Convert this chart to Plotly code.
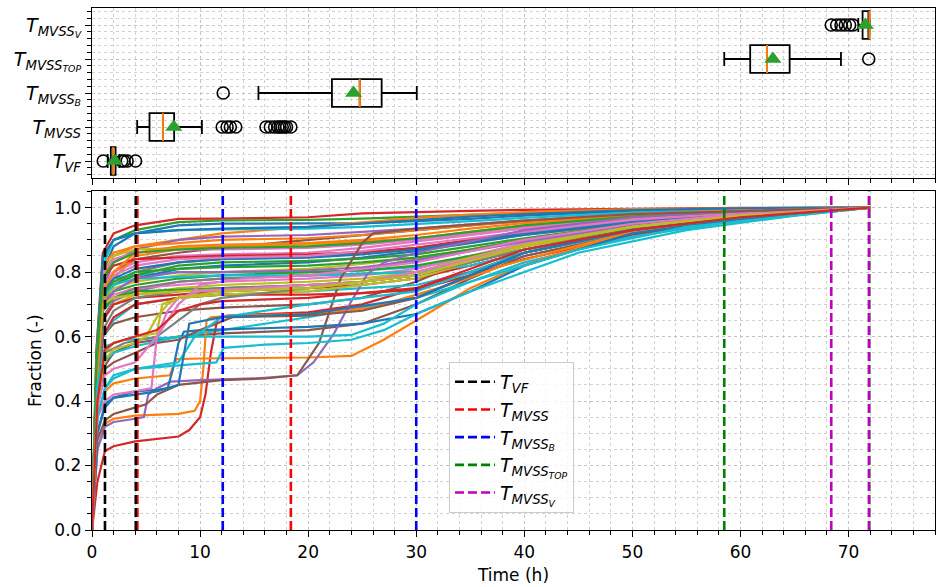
import plotly.graph_objects as go

# ---------------- data ----------------
# top panel: box statistics (hours)
BOX_LABELS = ["<i>T</i><sub><i>VF</i></sub>",
              "<i>T</i><sub><i>MVSS</i></sub>",
              "<i>T</i><sub><i>MVSS</i><sub><i>B</i></sub></sub>",
              "<i>T</i><sub><i>MVSS</i><sub><i>TOP</i></sub></sub>",
              "<i>T</i><sub><i>MVSS</i><sub><i>V</i></sub></sub>"]
BOX_POS = [1, 2, 3, 4, 5]
BOX_Q1 = [1.74, 5.32, 22.2, 60.9, 71.3]
BOX_MED = [1.96, 6.56, 24.77, 62.45, 71.93]
BOX_Q3 = [2.18, 7.6, 26.8, 64.55, 71.93]
BOX_LO = [1.45, 4.18, 15.4, 58.5, 70.9]
BOX_HI = [2.55, 10.17, 30.05, 69.3, 71.95]
BOX_MEAN = [2.1, 7.57, 24.2, 63.0, 71.55]
BOX_OUTLIERS = [
    [1.04, 2.75, 2.95, 3.25, 4.03],
    [12.05, 12.5, 12.8, 13.3, 16.1, 16.5, 16.9, 17.2, 17.4, 17.6, 17.8, 18.0, 18.4],
    [12.14],
    [71.87],
    [68.4, 68.9, 69.3, 69.7, 70.1, 70.4],
]

# vertical marker lines (min / max of each distribution)
VLINE_LABELS = BOX_LABELS
VLINE_VALUES = [[1.2, 4.05], [4.2, 18.4], [12.1, 30.0], [58.5, 71.9], [68.4, 71.9]]

# bottom panel: cumulative fraction curves
T_COMMON = [0, 0.4, 1, 2, 4, 8, 12, 20, 25, 30, 35, 40, 50, 60, 72]
Y_COMMON = [
    [0, 0.55, 0.86, 0.92, 0.945, 0.965, 0.966, 0.97, 0.982, 0.987, 0.99, 0.993, 0.997, 0.999, 1.0],
    [0, 0.5, 0.8, 0.88, 0.92, 0.945, 0.95, 0.95, 0.952, 0.958, 0.965, 0.975, 0.99, 0.997, 1.0],
    [0, 0.55, 0.84, 0.9, 0.93, 0.955, 0.96, 0.962, 0.966, 0.972, 0.978, 0.984, 0.993, 0.998, 1.0],
    [0, 0.5, 0.78, 0.85, 0.88, 0.9, 0.92, 0.94, 0.955, 0.968, 0.978, 0.986, 0.995, 0.998, 1.0],
    [0, 0.5, 0.82, 0.9, 0.92, 0.93, 0.932, 0.935, 0.94, 0.948, 0.958, 0.968, 0.985, 0.995, 1.0],
    [0, 0.45, 0.75, 0.83, 0.87, 0.9, 0.91, 0.915, 0.925, 0.935, 0.948, 0.96, 0.98, 0.992, 1.0],
    [0, 0.45, 0.72, 0.8, 0.84, 0.86, 0.875, 0.9, 0.915, 0.93, 0.945, 0.958, 0.978, 0.99, 1.0],
    [0, 0.5, 0.76, 0.8, 0.83, 0.85, 0.855, 0.86, 0.875, 0.895, 0.915, 0.935, 0.965, 0.985, 1.0],
    [0, 0.45, 0.7, 0.76, 0.8, 0.83, 0.84, 0.85, 0.86, 0.875, 0.895, 0.915, 0.95, 0.978, 1.0],
    [0, 0.5, 0.8, 0.85, 0.87, 0.875, 0.88, 0.885, 0.892, 0.905, 0.92, 0.94, 0.968, 0.986, 1.0],
    [0, 0.5, 0.75, 0.78, 0.79, 0.8, 0.8, 0.8, 0.805, 0.815, 0.84, 0.87, 0.925, 0.965, 1.0],
    [0, 0.45, 0.68, 0.74, 0.78, 0.81, 0.82, 0.83, 0.845, 0.865, 0.89, 0.915, 0.955, 0.982, 1.0],
    [0, 0.4, 0.7, 0.78, 0.85, 0.87, 0.88, 0.89, 0.895, 0.905, 0.925, 0.945, 0.972, 0.988, 1.0],
    [0, 0.45, 0.72, 0.76, 0.79, 0.82, 0.83, 0.835, 0.842, 0.855, 0.88, 0.905, 0.95, 0.978, 1.0],
    [0, 0.5, 0.78, 0.82, 0.84, 0.845, 0.85, 0.855, 0.862, 0.875, 0.9, 0.925, 0.96, 0.982, 1.0],
    [0, 0.4, 0.66, 0.71, 0.74, 0.77, 0.78, 0.79, 0.81, 0.84, 0.87, 0.9, 0.945, 0.975, 1.0],
    [0, 0.35, 0.6, 0.64, 0.66, 0.68, 0.69, 0.7, 0.72, 0.77, 0.84, 0.89, 0.94, 0.972, 1.0],
    [0, 0.45, 0.7, 0.73, 0.75, 0.76, 0.77, 0.78, 0.79, 0.81, 0.85, 0.89, 0.94, 0.975, 1.0],
    [0, 0.4, 0.68, 0.72, 0.75, 0.77, 0.78, 0.79, 0.795, 0.8, 0.83, 0.87, 0.93, 0.97, 1.0],
    [0, 0.4, 0.65, 0.7, 0.73, 0.75, 0.76, 0.77, 0.78, 0.8, 0.84, 0.88, 0.935, 0.972, 1.0],
    [0, 0.4, 0.6, 0.65, 0.7, 0.72, 0.73, 0.74, 0.75, 0.76, 0.8, 0.85, 0.92, 0.965, 1.0],
    [0, 0.45, 0.74, 0.78, 0.81, 0.83, 0.84, 0.845, 0.855, 0.87, 0.895, 0.92, 0.958, 0.982, 1.0],
    [0, 0.5, 0.82, 0.86, 0.88, 0.89, 0.9, 0.905, 0.915, 0.93, 0.945, 0.96, 0.98, 0.992, 1.0],
    [0, 0.45, 0.7, 0.74, 0.76, 0.78, 0.79, 0.8, 0.805, 0.82, 0.85, 0.88, 0.935, 0.972, 1.0],
    [0, 0.4, 0.65, 0.7, 0.72, 0.73, 0.74, 0.75, 0.76, 0.78, 0.82, 0.86, 0.925, 0.968, 1.0],
    [0, 0.45, 0.72, 0.75, 0.77, 0.79, 0.8, 0.81, 0.825, 0.845, 0.87, 0.9, 0.948, 0.978, 1.0],
    [0, 0.45, 0.73, 0.77, 0.8, 0.81, 0.815, 0.82, 0.83, 0.845, 0.87, 0.9, 0.948, 0.978, 1.0],
    [0, 0.5, 0.8, 0.84, 0.86, 0.87, 0.87, 0.875, 0.885, 0.9, 0.92, 0.94, 0.97, 0.988, 1.0],
    [0, 0.4, 0.68, 0.72, 0.74, 0.745, 0.75, 0.76, 0.77, 0.79, 0.83, 0.87, 0.93, 0.97, 1.0],
    [0, 0.45, 0.72, 0.76, 0.78, 0.785, 0.79, 0.79, 0.795, 0.8, 0.82, 0.86, 0.925, 0.968, 1.0],
    [0, 0.4, 0.6, 0.66, 0.7, 0.72, 0.73, 0.73, 0.735, 0.745, 0.79, 0.84, 0.915, 0.965, 1.0],
    [0, 0.5, 0.85, 0.9, 0.92, 0.93, 0.935, 0.94, 0.95, 0.962, 0.972, 0.98, 0.992, 0.998, 1.0],
    [0, 0.45, 0.7, 0.74, 0.78, 0.8, 0.8, 0.805, 0.815, 0.835, 0.865, 0.895, 0.945, 0.976, 1.0],
    [0, 0.35, 0.5, 0.55, 0.58, 0.6, 0.61, 0.62, 0.64, 0.7, 0.78, 0.85, 0.92, 0.965, 1.0],
    [0, 0.45, 0.75, 0.79, 0.82, 0.84, 0.845, 0.85, 0.865, 0.885, 0.905, 0.925, 0.962, 0.984, 1.0],
    [0, 0.4, 0.62, 0.68, 0.72, 0.74, 0.75, 0.76, 0.77, 0.79, 0.83, 0.87, 0.93, 0.97, 1.0],
    [0, 0.45, 0.7, 0.72, 0.73, 0.74, 0.745, 0.75, 0.77, 0.8, 0.845, 0.885, 0.94, 0.974, 1.0],
    [0, 0.4, 0.52, 0.55, 0.57, 0.6, 0.62, 0.66, 0.69, 0.72, 0.77, 0.83, 0.91, 0.96, 1.0],
    [0, 0.45, 0.74, 0.8, 0.86, 0.88, 0.885, 0.89, 0.9, 0.915, 0.935, 0.952, 0.976, 0.99, 1.0],
    [0, 0.5, 0.78, 0.83, 0.86, 0.87, 0.875, 0.88, 0.89, 0.905, 0.925, 0.945, 0.972, 0.988, 1.0],
]
# tab10 colour index for each common-grid curve
Y_COMMON_COLOR = [3, 0, 2, 1, 9, 4, 5, 6, 7, 8,
                  9, 0, 1, 2, 3, 4, 5, 6, 7, 8,
                  9, 0, 1, 2, 3, 8, 2, 6, 2, 9,
                  3, 0, 4, 5, 6, 7, 8, 9, 1, 2]

# curves with individual time stamps (step-like jumps)
T_SPECIAL = [
    [0, 0.5, 1.2, 2, 4, 6, 8, 9, 10, 10.5, 11, 11.6, 12.5, 16, 20, 25, 30, 35, 40, 50, 60, 72],
    [0, 0.5, 1.2, 2, 4, 6, 8, 9.5, 10, 10.3, 10.6, 11, 13, 20, 26, 30, 33, 38, 43, 50, 60, 72],
    [0, 0.5, 1.2, 2, 4, 6, 7.2, 7.8, 10, 20, 24, 27, 30, 35, 39, 43, 50, 58, 72],
    [0, 0.5, 1.2, 2, 4, 4.8, 5.2, 6, 7.3, 10, 15, 19, 20.5, 22.4, 24, 25.5, 27, 30, 40, 50, 60, 72],
    [0, 0.5, 1.2, 2, 3.5, 5, 6, 8, 12, 16, 19, 21, 23, 25, 26, 30, 40, 50, 72],
    [0, 0.5, 1.2, 2, 4, 6, 7, 7.5, 8, 8.5, 10, 15, 20, 25, 30, 35, 40, 50, 60, 72],
    [0, 0.5, 1.2, 2, 4, 8, 11.5, 12.2, 16, 20, 24, 27, 30, 35, 45, 55, 65, 72],
    [0, 0.5, 1.2, 3, 6, 10, 15, 20, 24, 27, 30, 35, 45, 55, 65, 72],
    [0, 0.5, 1.2, 2, 4, 6, 8, 10, 13, 20, 25, 30, 40, 50, 60, 72],
    [0, 0.5, 1.2, 2, 4, 5.5, 6, 7, 8, 10, 15, 25, 30, 40, 50, 60, 72],
    [0, 0.5, 1.2, 2, 4, 6, 6.5, 8, 12, 20, 30, 40, 50, 60, 72],
    [0, 0.5, 1.2, 2, 4, 6, 8, 9.5, 12, 20, 30, 40, 50, 60, 72],
    [0, 0.5, 1.2, 3, 6, 8, 10, 12, 20, 30, 40, 50, 60, 72],
    [0, 0.5, 1.2, 2, 4, 6, 8, 8.5, 9, 12, 20, 30, 40, 50, 60, 72],
    [0, 0.5, 1.2, 2, 4, 6, 8, 10, 14, 20, 30, 40, 50, 60, 72],
    [0, 0.5, 1.2, 2, 4, 5, 6, 7, 8, 12, 20, 30, 40, 50, 60, 72],
    [0, 0.5, 1.2, 2, 4, 6, 8, 10, 12, 20, 30, 40, 50, 60, 72],
]
Y_SPECIAL = [
    [0, 0.15, 0.245, 0.26, 0.275, 0.282, 0.29, 0.31, 0.35, 0.42, 0.55, 0.655, 0.665, 0.67, 0.675, 0.7, 0.75, 0.8, 0.86, 0.93, 0.97, 1.0],
    [0, 0.25, 0.33, 0.345, 0.355, 0.358, 0.36, 0.37, 0.4, 0.5, 0.65, 0.66, 0.665, 0.67, 0.69, 0.73, 0.76, 0.82, 0.865, 0.925, 0.965, 1.0],
    [0, 0.35, 0.43, 0.455, 0.47, 0.475, 0.48, 0.53, 0.532, 0.535, 0.54, 0.59, 0.65, 0.75, 0.81, 0.855, 0.925, 0.96, 1.0],
    [0, 0.25, 0.32, 0.335, 0.345, 0.35, 0.42, 0.44, 0.46, 0.465, 0.47, 0.48, 0.52, 0.61, 0.71, 0.795, 0.83, 0.86, 0.93, 0.97, 0.99, 1.0],
    [0, 0.28, 0.34, 0.36, 0.375, 0.39, 0.42, 0.45, 0.465, 0.47, 0.48, 0.58, 0.78, 0.89, 0.92, 0.935, 0.96, 0.98, 1.0],
    [0, 0.3, 0.38, 0.41, 0.43, 0.435, 0.44, 0.5, 0.58, 0.615, 0.62, 0.625, 0.63, 0.64, 0.67, 0.74, 0.82, 0.92, 0.965, 1.0],
    [0, 0.35, 0.44, 0.48, 0.5, 0.51, 0.52, 0.565, 0.575, 0.58, 0.59, 0.62, 0.67, 0.74, 0.86, 0.93, 0.975, 1.0],
    [0, 0.45, 0.57, 0.59, 0.595, 0.6, 0.6, 0.6, 0.605, 0.64, 0.7, 0.77, 0.87, 0.94, 0.975, 1.0],
    [0, 0.4, 0.5, 0.52, 0.55, 0.58, 0.59, 0.62, 0.66, 0.665, 0.68, 0.72, 0.86, 0.93, 0.97, 1.0],
    [0, 0.35, 0.4, 0.42, 0.43, 0.44, 0.6, 0.68, 0.72, 0.74, 0.75, 0.77, 0.8, 0.88, 0.94, 0.975, 1.0],
    [0, 0.4, 0.55, 0.58, 0.6, 0.61, 0.7, 0.72, 0.73, 0.74, 0.78, 0.88, 0.94, 0.975, 1.0],
    [0, 0.35, 0.44, 0.47, 0.5, 0.51, 0.52, 0.6, 0.66, 0.7, 0.74, 0.86, 0.93, 0.97, 1.0],
    [0, 0.4, 0.55, 0.58, 0.6, 0.65, 0.7, 0.72, 0.75, 0.79, 0.87, 0.93, 0.97, 1.0],
    [0, 0.3, 0.39, 0.41, 0.42, 0.43, 0.45, 0.55, 0.64, 0.66, 0.67, 0.72, 0.86, 0.93, 0.97, 1.0],
    [0, 0.38, 0.48, 0.5, 0.52, 0.6, 0.7, 0.76, 0.78, 0.79, 0.83, 0.9, 0.95, 0.98, 1.0],
    [0, 0.4, 0.53, 0.56, 0.58, 0.6, 0.66, 0.7, 0.72, 0.74, 0.75, 0.79, 0.88, 0.94, 0.975, 1.0],
    [0, 0.4, 0.56, 0.58, 0.6, 0.62, 0.68, 0.7, 0.71, 0.72, 0.75, 0.87, 0.93, 0.97, 1.0],
]
Y_SPECIAL_COLOR = [3, 1, 1, 4, 5, 0, 9, 9, 5, 6, 8, 9, 7, 0, 6, 8, 3]

# ---------------- styles ----------------
TAB10 = ['#1f77b4', '#ff7f0e', '#2ca02c', '#d62728', '#9467bd',
         '#8c564b', '#e377c2', '#7f7f7f', '#bcbd22', '#17becf']
VLINE_COLORS = ['#000000', '#ff0000', '#0000ff', '#008000', '#bf00bf']
VLINE_DRAW_ORDER = [1, 2, 3, 4, 0]   # black drawn last (on top)
FONT = "DejaVu Sans"

fig = go.Figure()

# ---- bottom panel curves ----
for ys, ci in zip(Y_COMMON, Y_COMMON_COLOR):
    fig.add_trace(go.Scatter(x=T_COMMON, y=ys, mode='lines', showlegend=False,
                             line=dict(color=TAB10[ci], width=2.2),
                             xaxis='x', yaxis='y', hoverinfo='skip'))
for ts, ys, ci in zip(T_SPECIAL, Y_SPECIAL, Y_SPECIAL_COLOR):
    fig.add_trace(go.Scatter(x=ts, y=ys, mode='lines', showlegend=False,
                             line=dict(color=TAB10[ci], width=2.2),
                             xaxis='x', yaxis='y', hoverinfo='skip'))

# ---- vertical dashed lines ----
Y_SPAN = [0, 1.05]
for j in VLINE_DRAW_ORDER:
    lab, vals, col = VLINE_LABELS[j], VLINE_VALUES[j], VLINE_COLORS[j]
    for k, v in enumerate(vals):
        fig.add_trace(go.Scatter(x=[v, v], y=Y_SPAN, mode='lines', name=lab,
                                 legendgroup=lab, legendrank=j + 1, showlegend=(k == 0),
                                 line=dict(color=col, width=2.6, dash='9px,4px'),
                                 xaxis='x', yaxis='y', hoverinfo='skip'))

# ---- top panel boxes ----
for i in range(len(BOX_POS)):
    fig.add_trace(go.Box(y=[BOX_POS[i]], q1=[BOX_Q1[i]], median=[BOX_MED[i]],
                         q3=[BOX_Q3[i]], lowerfence=[BOX_LO[i]], upperfence=[BOX_HI[i]],
                         orientation='h', width=0.82, whiskerwidth=0.5,
                         line=dict(color='black', width=1.8),
                         fillcolor='rgba(255,255,255,0)', boxpoints=False,
                         showlegend=False, xaxis='x2', yaxis='y2', hoverinfo='skip'))
    fig.add_trace(go.Scatter(x=[BOX_MED[i], BOX_MED[i]],
                             y=[BOX_POS[i] - 0.41, BOX_POS[i] + 0.41], mode='lines',
                             line=dict(color='#ff7f0e', width=2), showlegend=False,
                             xaxis='x2', yaxis='y2', hoverinfo='skip'))
    fig.add_trace(go.Scatter(x=BOX_OUTLIERS[i], y=[BOX_POS[i]] * len(BOX_OUTLIERS[i]),
                             mode='markers', showlegend=False,
                             marker=dict(symbol='circle-open', size=12,
                                         line=dict(color='black', width=1.6), color='black'),
                             xaxis='x2', yaxis='y2', hoverinfo='skip'))
fig.add_trace(go.Scatter(x=BOX_MEAN, y=BOX_POS, mode='markers', showlegend=False,
                         marker=dict(symbol='triangle-up', size=15, color='#2ca02c'),
                         xaxis='x2', yaxis='y2', hoverinfo='skip'))

axis_common = dict(showline=True, mirror=True, linecolor='black', linewidth=1.4,
                   ticks='outside', ticklen=6, tickwidth=1.3, tickcolor='black',
                   showgrid=True, gridcolor='#c4c4c4', griddash='dot', gridwidth=1,
                   zeroline=False)
minor_common = dict(ticklen=3.5, tickcolor='black', ticks='outside',
                    showgrid=True, gridcolor='#d2d2d2', griddash='dot', gridwidth=1)
tickfont = dict(family=FONT, size=17, color='black')

fig.update_layout(
    width=937, height=587,
    margin=dict(l=92, r=2, t=8, b=57),
    paper_bgcolor='white', plot_bgcolor='white',
    font=dict(family=FONT, color='black'),
    xaxis=dict(domain=[0, 1], range=[0, 78], tick0=0, dtick=10, anchor='y',
               tickfont=tickfont,
               title=dict(text='Time (h)', font=dict(family=FONT, size=17), standoff=8),
               minor=dict(dtick=2, **minor_common), **axis_common),
    yaxis=dict(domain=[0, 0.6485], range=[0, 1.05], tick0=0, dtick=0.2, tickformat='.1f',
               anchor='x', tickfont=tickfont,
               title=dict(text='Fraction (-)', font=dict(family=FONT, size=17), standoff=8),
               minor=dict(dtick=0.05, **minor_common), **axis_common),
    xaxis2=dict(domain=[0, 1], range=[0, 78], tick0=0, dtick=10, anchor='y2',
                showticklabels=False, minor=dict(dtick=2, **minor_common), **axis_common),
    yaxis2=dict(domain=[0.6743, 1], range=[0.5, 5.5], anchor='x2',
                tickmode='array', tickvals=BOX_POS, ticktext=BOX_LABELS,
                tickfont=dict(family=FONT, size=19, color='black'),
                minor=dict(tick0=1, dtick=0.2, **minor_common), **axis_common),
    legend=dict(x=0.4235, y=0.322, xanchor='left', yanchor='top',
                bgcolor='rgba(255,255,255,0.8)', bordercolor='#cccccc', borderwidth=1,
                itemwidth=40, traceorder='normal',
                font=dict(family=FONT, size=19, color='black'), tracegroupgap=0),
    showlegend=True,
)

fig.write_html("out.html")
